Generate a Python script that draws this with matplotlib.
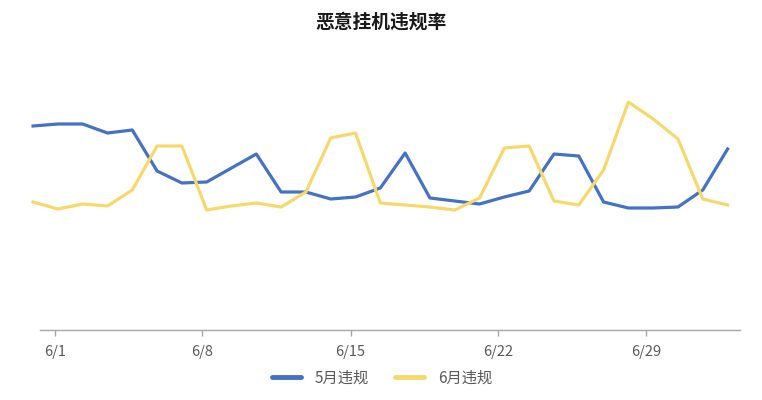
import matplotlib
matplotlib.use("Agg")
import matplotlib.pyplot as plt

plt.rcParams['font.family'] = ['Noto Sans CJK SC', 'DejaVu Sans']

# values (violation rate, %), one per sample
may_rate = [2.04, 2.06, 2.06, 1.97, 2.00, 1.59, 1.47, 1.48, 1.62, 1.76,
            1.38, 1.38, 1.31, 1.33, 1.42, 1.77, 1.32, 1.29, 1.26, 1.33,
            1.39, 1.76, 1.74, 1.28, 1.22, 1.22, 1.23, 1.40, 1.81]
june_rate = [1.28, 1.21, 1.26, 1.24, 1.40, 1.84, 1.84, 1.20, 1.24, 1.27,
             1.23, 1.38, 1.92, 1.97, 1.27, 1.25, 1.23, 1.20, 1.32, 1.82,
             1.84, 1.29, 1.25, 1.60, 2.28, 2.11, 1.91, 1.31, 1.25]
series_names = ["5月违规", "6月违规"]
tick_labels = ["6/1", "6/8", "6/15", "6/22", "6/29"]
tick_pos = [0.89, 6.83, 12.8, 18.75, 24.7]

blue = "#4472C4"
yellow = "#F7D96B"

fig = plt.figure(figsize=(7.62, 4.0), dpi=100)
ax = fig.add_axes([40 / 762, 70 / 400, 700 / 762, 290 / 400])

x = list(range(len(may_rate)))
# the lines start a few pixels left of the axis line in the original
ax.plot(x, may_rate, color=blue, lw=2.3, label=series_names[0],
        solid_joinstyle="round", clip_on=False)
ax.plot(x, june_rate, color=yellow, lw=2.3, label=series_names[1],
        solid_joinstyle="round", clip_on=False)

ax.set_xlim(0.28, 28.5)
ax.set_ylim(0, 2.9)

for side in ["top", "right", "left"]:
    ax.spines[side].set_visible(False)
ax.spines["bottom"].set_color("#a6a6a6")
ax.spines["bottom"].set_linewidth(1)
ax.set_yticks([])
ax.set_xticks(tick_pos)
ax.set_xticklabels(tick_labels)
ax.tick_params(axis="x", length=4, width=1, color="#a6a6a6",
               labelsize=10.5, labelcolor="#595959", pad=7)

fig.text(0.5, 1 - 22 / 400, "恶意挂机违规率", ha="center", va="center",
         fontsize=13.5, fontweight="heavy", color="#1a1a1a")

leg = fig.legend(loc="center", bbox_to_anchor=(382 / 762, 1 - 378 / 400),
                 ncol=2, frameon=False, fontsize=11, handlelength=1.9,
                 columnspacing=1.7, handletextpad=0.9)
for line in leg.get_lines():
    line.set_linewidth(3.5)
    line.set_solid_capstyle("round")
for t in leg.get_texts():
    t.set_color("#595959")

fig.savefig("out.png", dpi=100, facecolor="white")
